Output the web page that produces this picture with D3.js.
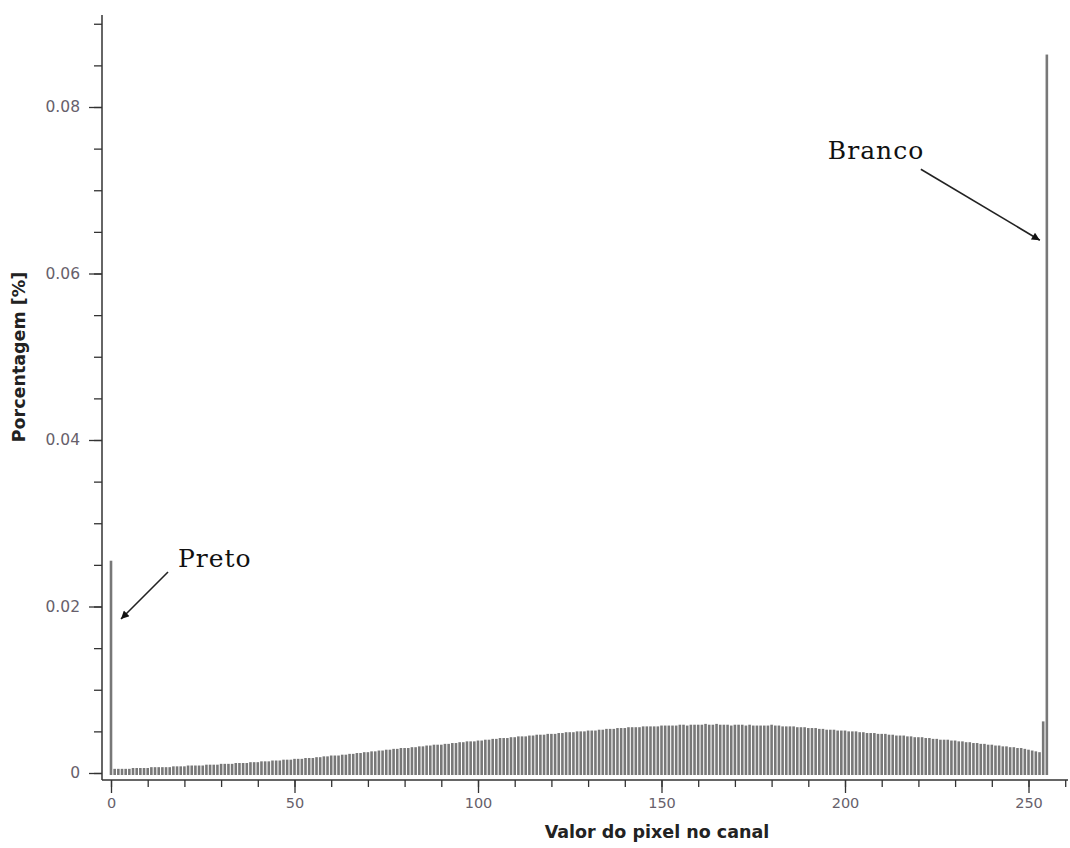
<!DOCTYPE html>
<html>
<head>
<meta charset="utf-8">
<script src="https://cdn.jsdelivr.net/npm/d3@7"></script>
<style>
    body { margin: 0; background: #fff; }
    .tick text { font-family: "DejaVu Sans", Verdana, sans-serif; fill: #675f6b; }
    .y-ticks .tick text { font-size: 15.5px; }
    .x-ticks .tick text { font-size: 14.5px; }
    .axis-title { font-family: "DejaVu Sans", Verdana, sans-serif; font-size: 17.5px; font-weight: bold; fill: #222; }
    .note { font-family: "DejaVu Serif", serif; font-size: 25px; fill: #111; letter-spacing: 1px; }
</style>
</head>
<body>
<svg id="chart" width="1070" height="848"></svg>
<script>
// histogram of one channel: percentage per pixel value 0..255
const pixelValues = [
    0.0255,
    0.0005, 0.0005, 0.0005, 0.0005, 0.0005, 0.0006, 0.0006, 0.0006, 0.0006,
    0.0006, 0.0007, 0.0007, 0.0007, 0.0007, 0.0007, 0.0007, 0.0008, 0.0008, 0.0008,
    0.0008, 0.0009, 0.0009, 0.0009, 0.0009, 0.0009, 0.0010, 0.0010, 0.0010, 0.0010,
    0.0011, 0.0011, 0.0011, 0.0011, 0.0012, 0.0012, 0.0012, 0.0012, 0.0013, 0.0013,
    0.0013, 0.0014, 0.0014, 0.0014, 0.0015, 0.0015, 0.0015, 0.0016, 0.0016, 0.0016,
    0.0017, 0.0017, 0.0017, 0.0018, 0.0018, 0.0018, 0.0019, 0.0019, 0.0020, 0.0020,
    0.0021, 0.0021, 0.0021, 0.0022, 0.0022, 0.0023, 0.0023, 0.0024, 0.0024, 0.0025,
    0.0025, 0.0026, 0.0026, 0.0027, 0.0027, 0.0028, 0.0028, 0.0029, 0.0029, 0.0030,
    0.0030, 0.0030, 0.0031, 0.0031, 0.0032, 0.0032, 0.0033, 0.0033, 0.0034, 0.0034,
    0.0034, 0.0035, 0.0035, 0.0036, 0.0036, 0.0037, 0.0037, 0.0038, 0.0038, 0.0038,
    0.0039, 0.0039, 0.0040, 0.0040, 0.0041, 0.0041, 0.0042, 0.0042, 0.0042, 0.0043,
    0.0043, 0.0044, 0.0044, 0.0044, 0.0045, 0.0045, 0.0046, 0.0046, 0.0046, 0.0047,
    0.0047, 0.0047, 0.0048, 0.0048, 0.0049, 0.0049, 0.0049, 0.0050, 0.0050, 0.0050,
    0.0051, 0.0051, 0.0051, 0.0052, 0.0052, 0.0053, 0.0053, 0.0053, 0.0054, 0.0054,
    0.0054, 0.0055, 0.0055, 0.0055, 0.0055, 0.0056, 0.0056, 0.0056, 0.0056, 0.0056,
    0.0057, 0.0057, 0.0057, 0.0057, 0.0057, 0.0058, 0.0058, 0.0057, 0.0058, 0.0058,
    0.0058, 0.0058, 0.0059, 0.0058, 0.0058, 0.0059, 0.0058, 0.0058, 0.0058, 0.0057,
    0.0058, 0.0058, 0.0058, 0.0057, 0.0058, 0.0057, 0.0057, 0.0057, 0.0057, 0.0057,
    0.0058, 0.0057, 0.0057, 0.0056, 0.0056, 0.0056, 0.0056, 0.0055, 0.0055, 0.0055,
    0.0054, 0.0054, 0.0054, 0.0053, 0.0053, 0.0052, 0.0052, 0.0052, 0.0051, 0.0051,
    0.0051, 0.0050, 0.0050, 0.0050, 0.0049, 0.0049, 0.0048, 0.0048, 0.0048, 0.0047,
    0.0047, 0.0047, 0.0046, 0.0046, 0.0045, 0.0045, 0.0045, 0.0044, 0.0044, 0.0043,
    0.0043, 0.0043, 0.0042, 0.0042, 0.0041, 0.0041, 0.0040, 0.0040, 0.0040, 0.0039,
    0.0039, 0.0038, 0.0038, 0.0037, 0.0037, 0.0036, 0.0036, 0.0035, 0.0035, 0.0034,
    0.0034, 0.0033, 0.0033, 0.0032, 0.0032, 0.0031, 0.0031, 0.0030, 0.0030, 0.0029,
    0.0028, 0.0027, 0.0026, 0.0025, 0.0062, 0.0863
];

const xTickValues = [0, 50, 100, 150, 200, 250];
const yTickValues = [0, 0.02, 0.04, 0.06, 0.08];

const annotations = [
    { label: "Preto", bin: 0, value: 0.0185, dx: 10, textDx: 57, textDy: -52, lineDx: 47, lineDy: -47 },
    { label: "Branco", bin: 255, value: 0.064, dx: -7, textDx: -212, textDy: -81, lineDx: -119, lineDy: -71 }
];

const svg = d3.select("#chart");

const x = d3.scaleLinear().domain([0, 250]).range([111, 1028.5]);
const y = d3.scaleLinear().domain([0, 0.08]).range([773, 107]);

const bins = pixelValues.map((v, i) => ({ bin: i, value: v }));
const barW = 2.6;

// bars
svg.append("g")
    .selectAll("rect")
    .data(bins)
    .join("rect")
    .attr("x", (d) => x(d.bin) - barW / 2)
    .attr("width", barW)
    .attr("y", (d) => y(d.value))
    .attr("height", (d) => y(0) + 2 - y(d.value))
    .attr("fill", "#787878");

// y axis
const yAxisG = svg.append("g").attr("transform", "translate(102,0)");
yAxisG.append("line")
    .attr("y1", 15).attr("y2", 780)
    .attr("stroke", "#333").attr("stroke-width", 1.5);
yAxisG.append("g")
    .call(d3.axisLeft(y).tickValues(d3.range(0, 0.0901, 0.005)).tickSize(8).tickFormat(""))
    .call((g) => g.select(".domain").remove())
    .call((g) => g.selectAll("line").attr("stroke", "#333").attr("stroke-width", 1.3));
yAxisG.append("g")
    .attr("class", "y-ticks")
    .call(d3.axisLeft(y).tickValues(yTickValues).tickSize(13).tickPadding(9).tickFormat((d) => d === 0 ? "0" : d3.format(".2f")(d)))
    .call((g) => g.select(".domain").remove())
    .call((g) => g.selectAll("line").attr("stroke", "#333").attr("stroke-width", 1.3));

// x axis
const xAxisG = svg.append("g").attr("transform", "translate(0,780)");
xAxisG.append("line")
    .attr("x1", 102).attr("x2", 1068)
    .attr("stroke", "#333").attr("stroke-width", 1.5);
xAxisG.append("g")
    .call(d3.axisBottom(x).tickValues(d3.range(0, 261, 10)).tickSize(7).tickFormat(""))
    .call((g) => g.select(".domain").remove())
    .call((g) => g.selectAll("line").attr("stroke", "#333").attr("stroke-width", 1.3));
xAxisG.append("g")
    .attr("class", "x-ticks")
    .call(d3.axisBottom(x).tickValues(xTickValues).tickSize(13).tickPadding(5))
    .call((g) => g.select(".domain").remove())
    .call((g) => g.selectAll("line").attr("stroke", "#333").attr("stroke-width", 1.3));

// axis titles
svg.append("text")
    .attr("class", "axis-title")
    .attr("x", 657).attr("y", 838)
    .attr("text-anchor", "middle")
    .text("Valor do pixel no canal");

svg.append("text")
    .attr("class", "axis-title")
    .attr("transform", "translate(25,357) rotate(-90)")
    .attr("text-anchor", "middle")
    .text("Porcentagem [%]");

// annotations with arrows
svg.append("defs").append("marker")
    .attr("id", "arrow")
    .attr("viewBox", "0 0 10 10")
    .attr("refX", 10).attr("refY", 5)
    .attr("markerWidth", 10).attr("markerHeight", 8)
    .attr("markerUnits", "userSpaceOnUse")
    .attr("orient", "auto")
    .append("path")
    .attr("d", "M0,0 L10,5 L0,10 Z")
    .attr("fill", "#111");

annotations.forEach((a) => {
    const tx = x(a.bin) + a.dx;
    const ty = y(a.value);
    svg.append("line")
        .attr("x1", tx + a.lineDx).attr("y1", ty + a.lineDy)
        .attr("x2", tx).attr("y2", ty)
        .attr("stroke", "#222").attr("stroke-width", 1.6)
        .attr("marker-end", "url(#arrow)");
    svg.append("text")
        .attr("class", "note")
        .attr("x", tx + a.textDx).attr("y", ty + a.textDy)
        .text(a.label);
});
</script>
</body>
</html>
